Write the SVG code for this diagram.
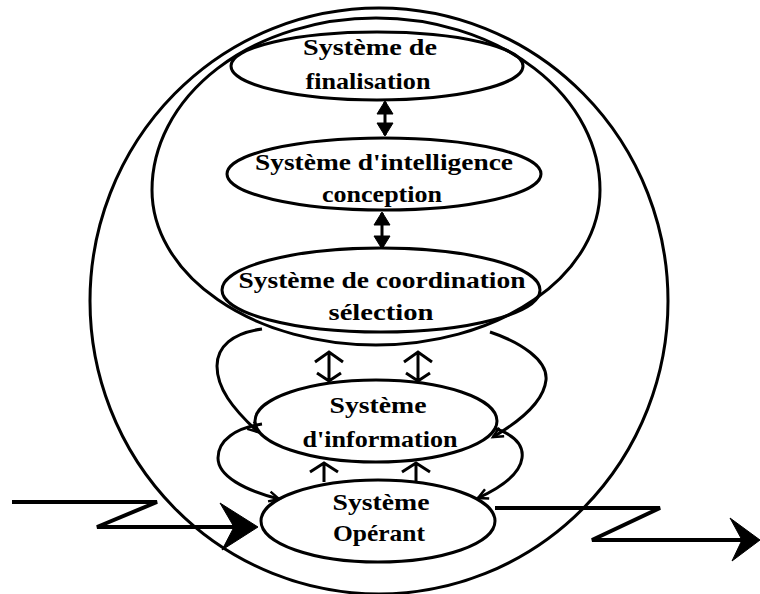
<svg xmlns="http://www.w3.org/2000/svg" width="760" height="594" viewBox="0 0 760 594">
<style>
.ln{fill:none;stroke:#000;stroke-width:3}
.zz{fill:none;stroke:#000;stroke-width:4;stroke-linejoin:miter}
.head{fill:#000;stroke:#000;stroke-width:1}
.lbl{font-family:"Liberation Serif","Times New Roman",serif;font-weight:bold;font-size:24px;fill:#000;text-anchor:middle}
</style>
<defs>
<marker id="open" markerUnits="userSpaceOnUse" markerWidth="14" markerHeight="14" refX="11" refY="6" orient="auto" viewBox="0 0 14 12">
<path d="M1,1 L11,6 L1,11" fill="none" stroke="#000" stroke-width="2.5"/>
</marker>
</defs>
<rect width="760" height="594" fill="#fff"/>
<g id="boundaries">
<ellipse id="outer" class="ln" cx="379" cy="301" rx="289" ry="293"/>
<path id="upper" class="ln" d="M152,190 A224,172 0 0 1 600,190 A224,155 0 0 1 152,190 Z"/>
</g>
<g id="finalisation">
<ellipse class="ln" cx="377" cy="66" rx="146" ry="34"/>
<text class="lbl" x="370" y="55" textLength="134" lengthAdjust="spacingAndGlyphs">Système de</text>
<text class="lbl" x="368" y="89" textLength="125" lengthAdjust="spacingAndGlyphs">finalisation</text>
</g>
<g id="intelligence">
<ellipse class="ln" cx="384" cy="174" rx="157" ry="36"/>
<text class="lbl" x="384" y="170" textLength="258" lengthAdjust="spacingAndGlyphs">Système d'intelligence</text>
<text class="lbl" x="382" y="202" textLength="120" lengthAdjust="spacingAndGlyphs">conception</text>
</g>
<g id="coordination">
<ellipse class="ln" cx="381" cy="290" rx="159" ry="42"/>
<text class="lbl" x="382" y="288" textLength="287" lengthAdjust="spacingAndGlyphs">Système de coordination</text>
<text class="lbl" x="381" y="320" textLength="105" lengthAdjust="spacingAndGlyphs">sélection</text>
</g>
<g id="information">
<ellipse class="ln" cx="376" cy="421" rx="121" ry="41"/>
<text class="lbl" x="378" y="413" textLength="97" lengthAdjust="spacingAndGlyphs">Système</text>
<text class="lbl" x="380" y="447" textLength="155" lengthAdjust="spacingAndGlyphs">d'information</text>
</g>
<g id="operant">
<ellipse class="ln" cx="378" cy="521" rx="117" ry="41"/>
<text class="lbl" x="381" y="510" textLength="97" lengthAdjust="spacingAndGlyphs">Système</text>
<text class="lbl" x="379" y="541" textLength="92" lengthAdjust="spacingAndGlyphs">Opérant</text>
</g>
<g id="connectors">
<path class="ln" d="M385,102 L385,135"/>
<path class="head" d="M385,101 L393,114 L377,114 Z"/>
<path class="head" d="M385,136 L393,123 L377,123 Z"/>
<path class="ln" d="M382,213 L382,248"/>
<path class="head" d="M382,212 L390,225 L374,225 Z"/>
<path class="head" d="M382,249 L390,236 L374,236 Z"/>
<path class="ln" d="M329,352 L329,381 M315,362 L329,352 L343,362 M317,373 L329,381 L341,373"/>
<path class="ln" d="M418,352 L418,381 M404,362 L418,352 L432,362 M406,373 L418,381 L430,373"/>
<path class="ln" d="M324,482 L324,464 M310,472 L324,463 L338,472"/>
<path class="ln" d="M416,482 L416,464 M402,472 L416,463 L430,472"/>
<path class="ln" marker-end="url(#open)" d="M262,329 C232,333 217,347 217,366 C217,388 232,408 258,432"/>
<path class="ln" marker-end="url(#open)" d="M262,424 C236,428 218,440 218,458 C218,476 244,490 279,499"/>
<path class="ln" marker-end="url(#open)" d="M490,332 C520,342 548,360 546,380 C544,400 522,420 493,437"/>
<path class="ln" marker-end="url(#open)" d="M494,428 C512,434 524,444 522,458 C520,474 502,487 478,498"/>
<path class="zz" d="M12,502 L157,502 L97,527 L240,527"/>
<path class="head" d="M220,503 L258,527 L222,550 L234,527 Z"/>
<path class="zz" d="M495,508 L660,508 L592,540 L745,540"/>
<path class="head" d="M730,518 L760,540 L732,561 L742,540 Z"/>
</g>
</svg>
